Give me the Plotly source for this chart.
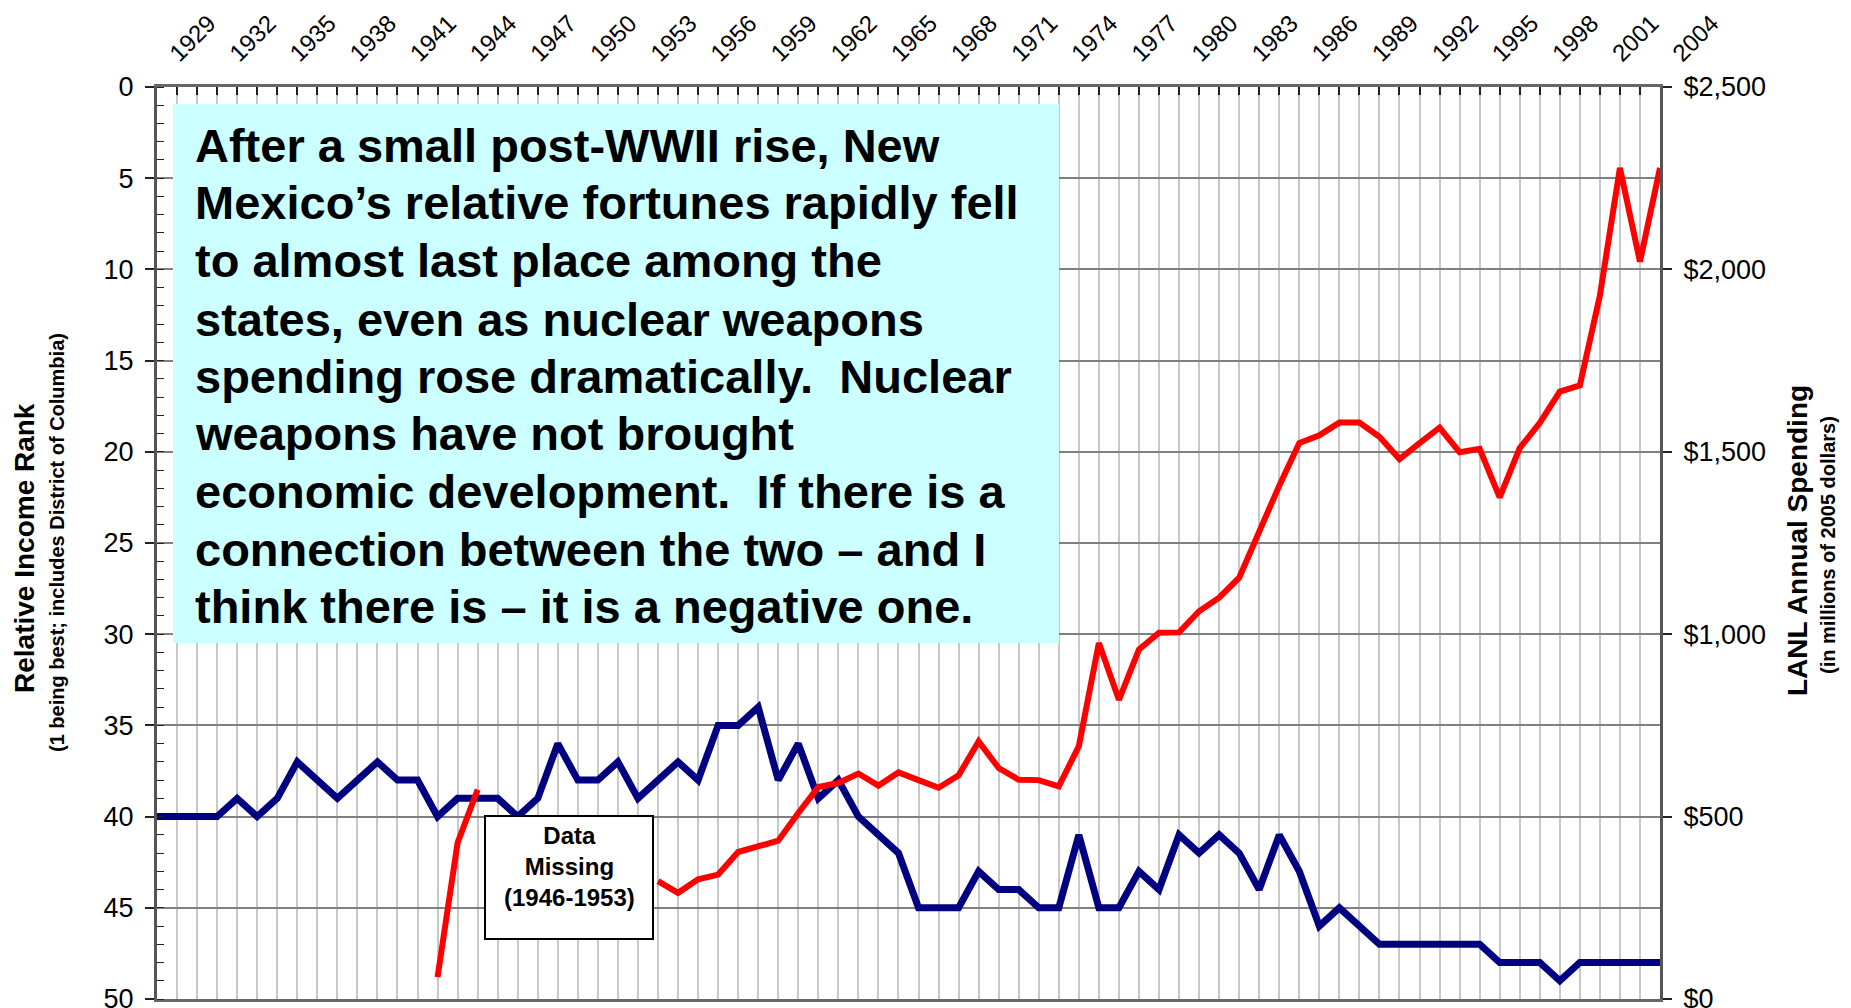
import plotly.graph_objects as go

# ---------------- data ----------------
years = list(range(1929, 2005))

income_rank = [
    40, 40, 40, 40, 39, 40, 39, 37, 38, 39,   # 1929-1938
    38, 37, 38, 38, 40, 39, 39, 39, 40, 39,   # 1939-1948
    36, 38, 38, 37, 39, 38, 37, 38, 35, 35,   # 1949-1958
    34, 38, 36, 39, 38, 40, 41, 42, 45, 45,   # 1959-1968
    45, 43, 44, 44, 45, 45, 41, 45, 45, 43,   # 1969-1978
    44, 41, 42, 41, 42, 44, 41, 43, 46, 45,   # 1979-1988
    46, 47, 47, 47, 47, 47, 47, 48, 48, 48,   # 1989-1998
    49, 48, 48, 48, 48, 48,                   # 1999-2004
]

lanl_spending = [
    None, None, None, None, None, None, None, None, None, None,   # 1929-1938
    None, None, None, None, 60, 428, 574, None, None, None,       # 1939-1948
    None, None, None, None, None, 323, 291, 328, 341, 403,        # 1949-1958
    419, 434, 510, 581, 592, 618, 585, 621, 600, 579,             # 1959-1968
    613, 706, 633, 601, 600, 583, 693, 976, 820, 958,             # 1969-1978
    1004, 1005, 1063, 1100, 1155, 1283, 1407, 1524, 1545, 1580,   # 1979-1988
    1580, 1541, 1480, 1524, 1566, 1499, 1508, 1375, 1510, 1579,   # 1989-1998
    1665, 1682, 1928, 2278, 2021, 2278,                           # 1999-2004
]

year_labels = list(range(1929, 2005, 3))
rank_ticks = list(range(0, 51, 5))
spend_ticks = [0, 500, 1000, 1500, 2000, 2500]
spend_labels = ["$0", "$500", "$1,000", "$1,500", "$2,000", "$2,500"]

message_lines = [
    "After a small post-WWII rise, New",
    "Mexico\u2019s relative fortunes rapidly fell",
    "to almost last place among the",
    "states, even as nuclear weapons",
    "spending rose dramatically.\u00a0 Nuclear",
    "weapons have not brought",
    "economic development.\u00a0 If there is a",
    "connection between the two \u2013 and I",
    "think there is \u2013 it is a negative one.",
]

# ---------------- layout helpers (page pixel -> paper) ----------------
PAGE_OFF = 8                      # default body margin of the html page
W, H = 1851 - PAGE_OFF, 1008 - PAGE_OFF
L, R, T, B = 157, 1660, 87, 999   # plot area in page pixels


def px(x):
    return (x - L) / (R - L)


def py(y):
    return (B - y) / (B - T)


FONT = "Liberation Sans, Arial, sans-serif"

fig = go.Figure()

fig.add_trace(go.Scatter(
    x=years, y=income_rank, mode="lines", name="Relative Income Rank",
    line=dict(color="#000080", width=7), yaxis="y", hoverinfo="skip",
))
fig.add_trace(go.Scatter(
    x=years, y=lanl_spending, mode="lines", name="LANL Annual Spending",
    line=dict(color="#FF0000", width=6), yaxis="y2", connectgaps=False,
    hoverinfo="skip",
))

shapes = [
    # cyan message box
    dict(type="rect", xref="paper", yref="paper", layer="above",
         x0=px(173), x1=px(1059), y0=py(643), y1=py(104),
         fillcolor="#CCFFFF", line=dict(width=0)),
    # data missing box
    dict(type="rect", xref="paper", yref="paper", layer="above",
         x0=px(485), x1=px(653), y0=py(939), y1=py(816),
         fillcolor="white", line=dict(color="black", width=2)),
]

annotations = []
line_y = [145, 203, 261, 319, 376, 433, 491, 549, 606]
for txt, yy in zip(message_lines, line_y):
    annotations.append(dict(
        xref="paper", yref="paper", x=px(193), y=py(yy),
        xanchor="left", yanchor="middle", showarrow=False, text=txt,
        font=dict(family=FONT, size=47, color="black", weight="bold"),
    ))

annotations.append(dict(
    xref="paper", yref="paper", x=px(569), y=py(866),
    xanchor="center", yanchor="middle", showarrow=False,
    text="Data<br>Missing<br>(1946-1953)", align="center",
    font=dict(family=FONT, size=24, color="black", weight="bold"),
))

# axis titles
annotations += [
    dict(xref="paper", yref="paper", x=px(24), y=py(548), textangle=-90,
         xanchor="center", yanchor="middle", showarrow=False,
         text="Relative Income Rank",
         font=dict(family=FONT, size=28, color="black", weight="bold")),
    dict(xref="paper", yref="paper", x=px(57), y=py(543), textangle=-90,
         xanchor="center", yanchor="middle", showarrow=False,
         text="(1 being best; includes District of Columbia)",
         font=dict(family=FONT, size=20, color="black", weight="bold")),
    dict(xref="paper", yref="paper", x=px(1797), y=py(541), textangle=-90,
         xanchor="center", yanchor="middle", showarrow=False,
         text="LANL Annual Spending",
         font=dict(family=FONT, size=28, color="black", weight="bold")),
    dict(xref="paper", yref="paper", x=px(1828), y=py(545), textangle=-90,
         xanchor="center", yanchor="middle", showarrow=False,
         text="(in millions of 2005 dollars)",
         font=dict(family=FONT, size=20, color="black", weight="bold")),
]

fig.update_layout(
    width=W, height=H,
    margin=dict(l=L - PAGE_OFF, r=1851 - R, t=T - PAGE_OFF, b=1008 - B,
                pad=0, autoexpand=False),
    paper_bgcolor="white", plot_bgcolor="white",
    showlegend=False,
    font=dict(family=FONT, color="black"),
    shapes=shapes, annotations=annotations,
    xaxis=dict(
        side="top", range=[1929, 2004], tickmode="array",
        tickvals=year_labels, ticktext=[str(y) for y in year_labels],
        tickangle=-45, tickfont=dict(size=24, color="black"),
        ticklabelshift=14, ticklabelstandoff=8, automargin=False,
        ticklabeloverflow="allow",
        ticks="inside", ticklen=8, tickwidth=1.5, tickcolor="#222",
        showgrid=True, gridcolor="#c8c8c8", gridwidth=1.5,
        minor=dict(tick0=1929, dtick=1, ticks="inside", ticklen=8,
                   tickwidth=1.5, tickcolor="#222", showgrid=True,
                   gridcolor="#c8c8c8", gridwidth=1.5),
        showline=True, linecolor="#666", linewidth=3, mirror=True,
        zeroline=False, fixedrange=True,
    ),
    yaxis=dict(
        range=[50, 0], tickmode="array", tickvals=rank_ticks,
        tickfont=dict(size=27, color="black"),
        ticks="outside", ticklen=9, tickwidth=1.5, tickcolor="#222",
        ticklabelstandoff=6, automargin=False, ticklabeloverflow="allow",
        minor=dict(dtick=1, ticks="inside", ticklen=7, tickwidth=1.2,
                   tickcolor="#222", showgrid=False),
        showgrid=True, gridcolor="#808080", gridwidth=2,
        showline=True, linecolor="#555", linewidth=3,
        zeroline=False, fixedrange=True,
    ),
    yaxis2=dict(
        overlaying="y", side="right", range=[0, 2500], tickmode="array",
        tickvals=spend_ticks, ticktext=spend_labels,
        tickfont=dict(size=27, color="black"),
        ticks="outside", ticklen=9, tickwidth=1.5, tickcolor="#222",
        ticklabelstandoff=6, automargin=False, ticklabeloverflow="allow",
        showgrid=False, showline=True, linecolor="#555", linewidth=3,
        zeroline=False, fixedrange=True,
    ),
)

fig.write_html("out.html")
